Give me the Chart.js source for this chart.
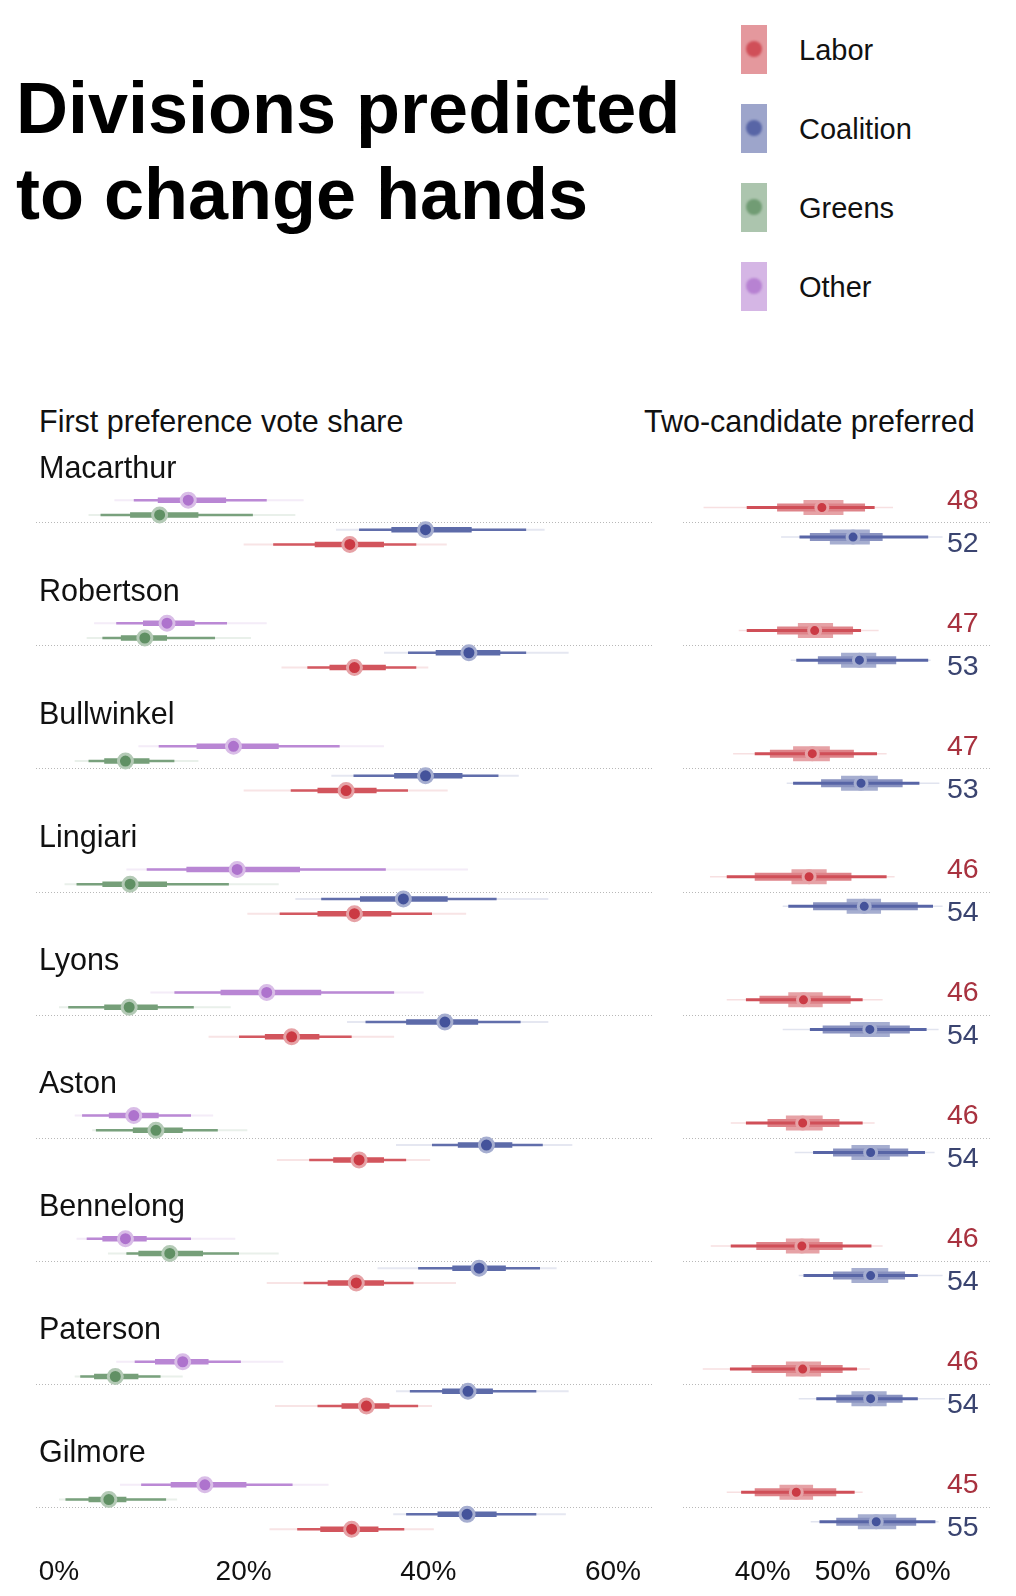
<!DOCTYPE html>
<html>
<head>
<meta charset="utf-8">
<title>Divisions predicted to change hands</title>
<script src="https://cdn.jsdelivr.net/npm/chart.js@4.4.1/dist/chart.umd.min.js"></script>
<style>
  body { margin: 0; background: #fff; font-family: "Liberation Sans", Arial, sans-serif; color: #111; }
  #page { position: relative; width: 1016px; height: 1596px; overflow: hidden; }
  .title { position: absolute; left: 16px; top: 65px; font-size: 72px; font-weight: bold; line-height: 86px; color: #000; white-space: nowrap; }
  .sw { position: absolute; left: 741px; width: 26px; height: 49px; }
  .sw span { position: absolute; left: 5px; top: 16px; width: 16px; height: 16px; border-radius: 50%; filter: blur(1.2px); }
  .lg { position: absolute; left: 799px; font-size: 29px; line-height: 34px; white-space: nowrap; }
  .hd { position: absolute; top: 403px; font-size: 30.5px; line-height: 36px; white-space: nowrap; }
  canvas { position: absolute; top: 380px; }
</style>
</head>
<body>
<div id="page">
  <div class="title">Divisions predicted<br>to change hands</div>
  <div id="legend"></div>
  <div class="hd" style="left:39px">First preference vote share</div>
  <div class="hd" style="left:644px">Two-candidate preferred</div>
  <canvas id="fpChart" width="660" height="1216" style="left:0"></canvas>
  <canvas id="tppChart" width="356" height="1216" style="left:660px"></canvas>
</div>
<script>
// ---- data ----
const divisions = ["Macarthur", "Robertson", "Bullwinkel", "Lingiari", "Lyons", "Aston", "Bennelong", "Paterson", "Gilmore"];
const parties = ["Labor", "Coalition", "Greens", "Other"];
const fpTicks = [0, 20, 40, 60];
const tppTicks = [40, 50, 60];

// first preference vote share (%): estimate, inner / outer / tail intervals
const laborFP = [31.5, 32.0, 31.1, 32.0, 25.2, 32.5, 32.2, 33.3, 31.7];
const laborFPInner = [[27.7, 35.2], [29.3, 35.4], [28.0, 34.4], [28.0, 36.0], [22.3, 28.2], [29.7, 35.2], [29.1, 35.2], [30.6, 35.8], [28.3, 34.6]];
const laborFPOuter = [[23.2, 38.7], [26.9, 38.7], [25.1, 37.8], [23.9, 40.4], [19.5, 31.7], [27.1, 37.6], [26.5, 38.4], [28.0, 38.9], [25.8, 37.4]];
const laborFPTail = [[20.0, 42.0], [24.1, 40.0], [20.0, 42.1], [20.4, 44.1], [16.2, 36.3], [23.6, 40.2], [22.5, 43.0], [23.4, 40.4], [22.8, 40.6]];

const coalitionFP = [39.7, 44.4, 39.7, 37.3, 41.8, 46.3, 45.5, 44.3, 44.2];
const coalitionFPInner = [[36.0, 44.7], [40.8, 47.8], [36.3, 43.7], [32.6, 42.1], [37.6, 45.4], [43.2, 49.1], [42.6, 48.4], [41.5, 47.0], [41.0, 47.4]];
const coalitionFPOuter = [[32.5, 50.6], [37.8, 50.6], [31.9, 47.6], [28.4, 47.4], [33.2, 50.0], [40.4, 52.4], [38.9, 52.1], [38.0, 51.7], [37.6, 51.7]];
const coalitionFPTail = [[30.0, 52.6], [35.2, 55.2], [29.5, 49.8], [25.6, 53.0], [31.2, 53.0], [36.5, 55.6], [34.5, 53.9], [36.5, 55.2], [36.2, 54.9]];

const greensFP = [10.9, 9.3, 7.2, 7.7, 7.6, 10.5, 12.0, 6.1, 5.4];
const greensFPInner = [[7.7, 15.1], [6.7, 11.7], [4.9, 9.8], [4.7, 11.7], [4.9, 10.7], [8.0, 13.4], [8.6, 15.6], [3.8, 8.6], [3.2, 7.3]];
const greensFPOuter = [[4.5, 21.0], [4.7, 16.9], [3.2, 12.5], [1.9, 18.4], [1.0, 14.6], [4.0, 17.2], [7.3, 19.5], [2.3, 11.0], [0.7, 11.6]];
const greensFPTail = [[3.2, 25.6], [3.0, 20.8], [1.7, 15.1], [0.6, 23.8], [0.0, 18.6], [3.6, 20.4], [5.3, 23.8], [1.7, 13.4], [0.0, 12.8]];

const otherFP = [14.0, 11.7, 18.9, 19.3, 22.5, 8.1, 7.2, 13.4, 15.8];
const otherFPInner = [[10.7, 18.1], [9.1, 14.7], [14.9, 23.8], [13.8, 26.1], [17.5, 28.4], [5.4, 10.8], [4.7, 9.5], [10.4, 16.2], [12.1, 20.3]];
const otherFPOuter = [[8.1, 22.5], [6.2, 18.2], [10.8, 30.4], [9.5, 35.4], [12.5, 36.3], [2.5, 14.3], [3.0, 14.3], [8.2, 19.7], [8.9, 25.3]];
const otherFPTail = [[6.0, 26.5], [3.8, 22.5], [8.6, 35.2], [7.3, 44.3], [9.9, 39.5], [1.7, 16.7], [1.9, 19.1], [6.2, 24.3], [6.6, 29.2]];

// two-candidate preferred (%)
const laborTPP = [47.4, 46.5, 46.2, 45.8, 45.1, 45.0, 44.9, 45.0, 44.2];
const laborTPPCore = [[45.1, 50.1], [44.4, 48.8], [43.8, 48.4], [43.6, 48.0], [43.2, 47.5], [42.9, 47.5], [42.9, 47.1], [42.9, 47.3], [42.1, 46.3]];
const laborTPPMid = [[41.8, 52.8], [41.8, 51.3], [40.9, 51.4], [39.0, 51.1], [39.6, 51.0], [40.6, 49.6], [39.2, 50.0], [38.6, 50.0], [39.0, 49.2]];
const laborTPPOuter = [[38.0, 54.0], [38.0, 52.3], [39.0, 54.3], [35.5, 55.5], [37.9, 52.5], [37.9, 52.5], [36.0, 53.6], [35.9, 51.8], [37.3, 51.5]];
const laborTPPTail = [[32.6, 56.3], [37.0, 54.5], [36.3, 55.5], [33.4, 56.5], [35.5, 55.0], [36.0, 54.0], [33.5, 55.0], [32.5, 53.4], [35.5, 52.5]];

const coalitionTPP = [51.3, 52.1, 52.3, 52.7, 53.4, 53.5, 53.5, 53.5, 54.2];
const coalitionTPPCore = [[48.4, 53.4], [49.8, 54.2], [49.8, 54.4], [50.5, 54.8], [50.9, 55.9], [51.1, 55.9], [51.1, 55.7], [51.1, 55.5], [51.9, 56.7]];
const coalitionTPPMid = [[45.9, 55.0], [46.9, 56.7], [47.3, 57.5], [46.3, 59.4], [47.5, 58.4], [48.8, 58.2], [48.8, 57.8], [49.2, 57.5], [49.2, 59.2]];
const coalitionTPPOuter = [[44.6, 60.7], [44.2, 60.7], [43.8, 59.6], [43.2, 61.3], [45.9, 60.5], [46.3, 60.3], [45.1, 59.4], [46.7, 59.4], [47.1, 61.6]];
const coalitionTPPTail = [[42.3, 62.5], [43.5, 61.0], [43.0, 62.1], [42.5, 62.5], [42.5, 62.0], [44.0, 61.5], [44.5, 62.5], [44.5, 62.8], [46.0, 62.0]];

const laborTPPLabel = [48, 47, 47, 46, 46, 46, 46, 46, 45];
const coalitionTPPLabel = [52, 53, 53, 54, 54, 54, 54, 54, 55];

// ---- styling ----
const partyRGB = { Labor: [200, 48, 58], Coalition: [58, 74, 150], Greens: [88, 138, 92], Other: [170, 108, 202] };
const labelColor = { Labor: "#a8323f", Coalition: "#3a4470" };
const fpRow = { Other: -0.18, Greens: -0.06, Coalition: 0.06, Labor: 0.18 };
const tppRow = { Labor: -0.12, Coalition: 0.12 };
const FONT = "'Liberation Sans', Arial, sans-serif";
Chart.defaults.font.family = FONT;

function tint(rgb, a) {
  return "rgb(" + rgb.map(v => Math.round(v * a + 255 * (1 - a))).join(",") + ")";
}

// each interval becomes a 2-point segment, broken from the next by a null point
function segments(ranges, off) {
  const pts = [];
  ranges.forEach((r, i) => {
    pts.push({ x: r[0], y: i + off }, { x: r[1], y: i + off }, { x: null, y: null });
  });
  return pts;
}

function barSet(ranges, off, color, width, order) {
  return {
    type: "line", data: segments(ranges, off), borderColor: color, borderWidth: width,
    borderCapStyle: "butt", pointRadius: 0, fill: false, tension: 0, spanGaps: false, order: order
  };
}

function dotSet(vals, off, rgb, r) {
  return {
    type: "line", showLine: false, data: vals.map((v, i) => ({ x: v, y: i + off })),
    pointRadius: r, pointBackgroundColor: tint(rgb, 0.95), pointBorderColor: tint(rgb, 0.45),
    pointBorderWidth: 3, order: 0
  };
}

// legend
const legendBox = document.getElementById("legend");
parties.forEach((p, i) => {
  const cy = 49.5 + i * 79;
  const sw = document.createElement("div");
  sw.className = "sw";
  sw.style.top = (cy - 24.5) + "px";
  sw.style.background = tint(partyRGB[p], 0.5);
  const dot = document.createElement("span");
  dot.style.background = tint(partyRGB[p], 0.85);
  sw.appendChild(dot);
  legendBox.appendChild(sw);
  const lg = document.createElement("div");
  lg.className = "lg";
  lg.style.top = (cy - 17) + "px";
  lg.textContent = p;
  legendBox.appendChild(lg);
});

// dotted separator under each division
const separators = {
  id: "separators",
  beforeDatasetsDraw(chart) {
    const { ctx, chartArea, scales } = chart;
    ctx.save();
    ctx.strokeStyle = "#b8b8b8";
    ctx.lineWidth = 1;
    ctx.setLineDash([1, 2]);
    divisions.forEach((d, i) => {
      const y = Math.round(scales.y.getPixelForValue(i)) + 0.5;
      ctx.beginPath();
      ctx.moveTo(chartArea.left, y);
      ctx.lineTo(chartArea.right, y);
      ctx.stroke();
    });
    ctx.restore();
  }
};

const divisionNames = {
  id: "divisionNames",
  afterDraw(chart) {
    const { ctx, scales } = chart;
    ctx.save();
    ctx.font = "30.5px " + FONT;
    ctx.fillStyle = "#111";
    ctx.textBaseline = "middle";
    divisions.forEach((d, i) => ctx.fillText(d, 39, scales.y.getPixelForValue(i - 0.43)));
    ctx.restore();
  }
};

const tppLabels = {
  id: "tppLabels",
  afterDraw(chart) {
    const { ctx, scales } = chart;
    ctx.save();
    ctx.font = "28.5px " + FONT;
    ctx.textBaseline = "middle";
    divisions.forEach((d, i) => {
      ctx.fillStyle = labelColor.Labor;
      ctx.fillText(laborTPPLabel[i], 287, scales.y.getPixelForValue(i - 0.175));
      ctx.fillStyle = labelColor.Coalition;
      ctx.fillText(coalitionTPPLabel[i], 287, scales.y.getPixelForValue(i + 0.175));
    });
    ctx.restore();
  }
};

function xAxis(min, max, ticks) {
  return {
    type: "linear", min: min, max: max,
    grid: { display: false, drawTicks: false }, border: { display: false },
    afterBuildTicks: s => { s.ticks = ticks.map(v => ({ value: v })); },
    afterFit: s => { s.height = 50; },
    ticks: { padding: 9, color: "#111", font: { size: 28 }, maxRotation: 0, autoSkip: false, callback: v => v + "%" }
  };
}
const yAxis = { type: "linear", reverse: true, min: -1.156, max: 8.317, display: false };
const common = {
  responsive: false, animation: false, events: [],
  plugins: { legend: { display: false }, tooltip: { enabled: false } }
};

// first preference chart
const fpSeries = {
  Labor: [laborFP, laborFPInner, laborFPOuter, laborFPTail],
  Coalition: [coalitionFP, coalitionFPInner, coalitionFPOuter, coalitionFPTail],
  Greens: [greensFP, greensFPInner, greensFPOuter, greensFPTail],
  Other: [otherFP, otherFPInner, otherFPOuter, otherFPTail]
};
const fpSets = [];
parties.forEach(p => {
  const [est, inner, outer, tail] = fpSeries[p];
  const rgb = partyRGB[p], off = fpRow[p];
  fpSets.push(barSet(tail, off, tint(rgb, 0.13), 2, 4));
  fpSets.push(barSet(outer, off, tint(rgb, 0.8), 2.5, 3));
  fpSets.push(barSet(inner, off, tint(rgb, 0.82), 5.5, 2));
  fpSets.push(dotSet(est, off, rgb, 7));
});

new Chart(document.getElementById("fpChart"), {
  type: "line",
  data: { datasets: fpSets },
  options: Object.assign({}, common, {
    layout: { autoPadding: false, padding: { left: 36, right: 8, top: 0, bottom: 0 } },
    scales: { x: xAxis(-2.49, 64.23, fpTicks), y: yAxis }
  }),
  plugins: [separators, divisionNames]
});

// two-candidate preferred chart
const tppSeries = {
  Labor: [laborTPP, laborTPPCore, laborTPPMid, laborTPPOuter, laborTPPTail],
  Coalition: [coalitionTPP, coalitionTPPCore, coalitionTPPMid, coalitionTPPOuter, coalitionTPPTail]
};
const tppSets = [];
["Labor", "Coalition"].forEach(p => {
  const [est, core, mid, outer, tail] = tppSeries[p];
  const rgb = partyRGB[p], off = tppRow[p];
  tppSets.push(barSet(tail, off, tint(rgb, 0.15), 1.5, 5));
  tppSets.push(barSet(core, off, tint(rgb, 0.45), 15, 4));
  tppSets.push(barSet(mid, off, tint(rgb, 0.6), 8, 3));
  tppSets.push(barSet(outer, off, tint(rgb, 0.85), 3, 2));
  tppSets.push(dotSet(est, off, rgb, 6));
});

new Chart(document.getElementById("tppChart"), {
  type: "line",
  data: { datasets: tppSets },
  options: Object.assign({}, common, {
    layout: { autoPadding: false, padding: { left: 23, right: 24, top: 0, bottom: 0 } },
    scales: { x: xAxis(30.03, 68.68, tppTicks), y: yAxis }
  }),
  plugins: [separators, tppLabels]
});
</script>
</body>
</html>
